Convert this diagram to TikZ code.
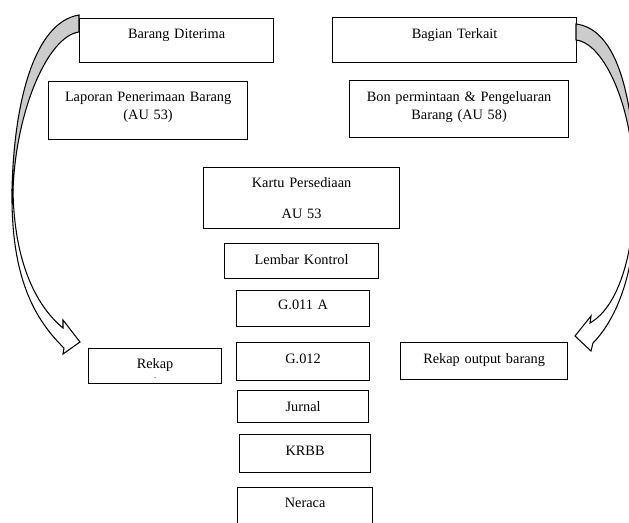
\documentclass[tikz,border=0pt]{standalone}
\usepackage{fontspec}
\setmainfont{Liberation Serif}
\usepackage{tikz}
\usetikzlibrary{positioning}
\definecolor{abu}{RGB}{204,204,204}
\tikzstyle{kotak} = [draw, line width=0.7pt, inner sep=0pt, align=center, anchor=north west, font=\fontsize{8.15}{10}\selectfont]
\tikzstyle{panah} = [draw, line width=0.6pt, line join=miter]

\begin{document}
\begin{tikzpicture}[x=0.02cm, y=-0.02cm]
\useasboundingbox (0,0) rectangle (629,522);
\clip (0,0) rectangle (629,522);

% Top row
\node[kotak, text width=3.88cm, text height=0.40cm, text depth=0.48cm] (diterima) at (79,18) {Barang Diterima};
\node[kotak, text width=4.88cm, text height=0.42cm, text depth=0.48cm] (terkait) at (332,17) {Bagian Terkait};

% Documents
\node[kotak, text width=3.98cm, text height=0.40cm, text depth=0.76cm] (laporan) at (48,81) {Laporan Penerimaan Barang\\(AU 53)};
\node[kotak, text width=4.38cm, text height=0.42cm, text depth=0.72cm] (bon) at (349,80) {Bon permintaan \& Pengeluaran\\Barang (AU 58)};

% Middle column
\node[kotak, text width=3.92cm, text height=0.40cm, text depth=0.82cm] (kartu) at (203,167) {Kartu Persediaan\\[7.5pt]AU 53};
\node[kotak, text width=3.08cm, text height=0.42cm, text depth=0.28cm] (lembar) at (224,243) {Lembar Kontrol};
\node[kotak, text width=2.66cm, text height=0.38cm, text depth=0.34cm] (g011) at (236,290) {G.011 A};
\node[kotak, text width=2.66cm, text height=0.42cm, text depth=0.34cm] (g012) at (236,342) {G.012};
\node[kotak, text width=2.62cm, text height=0.42cm, text depth=0.22cm] (jurnal) at (237,390) {Jurnal};
\node[kotak, text width=2.62cm, text height=0.42cm, text depth=0.34cm] (krbb) at (239,434) {KRBB};
\node[kotak, text width=2.70cm, text height=0.40cm, text depth=0.42cm] (neraca) at (237,487) {Neraca};

% Recaps
\node[kotak, text width=2.66cm, text height=0.40cm, text depth=0.30cm] (rekap) at (88,348) {Rekap\\[-4.3pt]{\fontsize{5}{6}\selectfont .}};
\node[kotak, text width=3.34cm, text height=0.42cm, text depth=0.32cm] (output) at (400,342) {Rekap output barang};

% Left curved arrow
\draw[panah, fill=abu] (79,15) .. controls (35,22) and (14,100) .. (12,190) -- (13,190) .. controls (16,110) and (48,36) .. (79,32) -- cycle;
\draw[panah, fill=white] (13,190) .. controls (14,260) and (35,305) .. (63,328) -- (63,320) -- (80,342) -- (63,354) -- (64,348) .. controls (30,315) and (11,270) .. (12,190) -- cycle;

% Right curved arrow
\draw[panah, fill=abu] (576,24) .. controls (608,28) and (628,70) .. (634,150) -- (632,150) .. controls (624,85) and (598,42) .. (576,40) -- cycle;
\draw[panah, fill=white] (632,150) .. controls (640,210) and (630,300) .. (590,323) -- (591,316) -- (575,336) -- (591,351) -- (593,343) .. controls (630,305) and (642,230) .. (634,150) -- cycle;
\end{tikzpicture}
\end{document}
